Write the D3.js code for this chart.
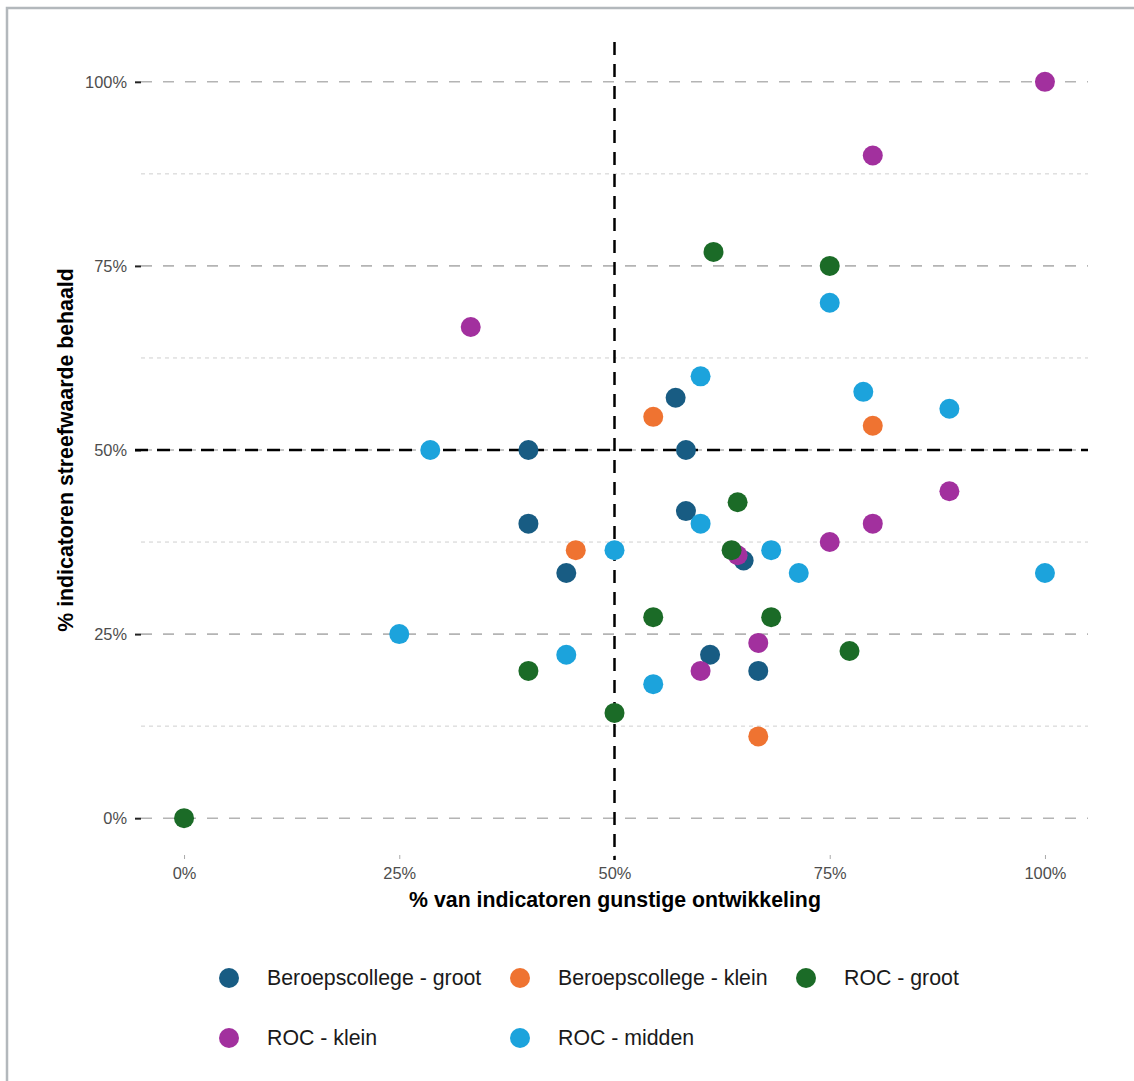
<!DOCTYPE html>
<html><head><meta charset="utf-8">
<script src="https://cdn.jsdelivr.net/npm/d3@7"></script>
<style>body{margin:0;background:#fff;font-family:"Liberation Sans",Arial,sans-serif}</style>
</head><body><svg id="c" width="1134" height="1081"></svg>
<script>
const groups = ["Beroepscollege - groot","Beroepscollege - klein","ROC - groot","ROC - klein","ROC - midden"];
const colors = ["#185c83","#ef7331","#1b6b27","#a2309e","#1ca3dc"];
// x: % indicatoren gunstige ontwikkeling, y: % indicatoren streefwaarde behaald
const bcGrootX = [57.1,40,58.3,40,58.3,44.4,65,61.1,66.7];
const bcGrootY = [57.1,50,50,40,41.7,33.3,35,22.2,20];
const bcKleinX = [54.5,80,45.5,66.7];
const bcKleinY = [54.5,53.3,36.4,11.1];
const rocGrootX = [0,61.5,75,64.3,63.6,54.5,68.2,77.3,40,50];
const rocGrootY = [0,76.9,75,42.9,36.4,27.3,27.3,22.7,20,14.3];
const rocKleinX = [100,80,33.3,88.9,80,75,64.3,66.7,60];
const rocKleinY = [100,90,66.7,44.4,40,37.5,35.7,23.8,20];
const rocMiddenX = [75,60,78.9,88.9,28.6,60,50,68.2,71.4,100,25,44.4,54.5];
const rocMiddenY = [70,60,57.9,55.6,50,40,36.4,36.4,33.3,33.3,25,22.2,18.2];
const majorTicks = [0,25,50,75,100];
const minorTicks = [12.5,37.5,62.5,87.5];
const tickLabels = ["0%","25%","50%","75%","100%"];
const drawOrder = [0,1,3,4,2];

const seriesX=[bcGrootX,bcKleinX,rocGrootX,rocKleinX,rocMiddenX];
const seriesY=[bcGrootY,bcKleinY,rocGrootY,rocKleinY,rocMiddenY];
const points=[];
drawOrder.forEach(i=>seriesX[i].forEach((x,j)=>points.push({g:i,x:x,y:seriesY[i][j]})));

const svg=d3.select("#c");
const x=d3.scaleLinear().domain([-5,105]).range([141,1088]);
const y=d3.scaleLinear().domain([-5,105]).range([855,45]);
const FONT="Liberation Sans, Arial, sans-serif";

// frame
svg.append("rect").attr("x",7).attr("y",8).attr("width",1140).attr("height",1090)
  .attr("fill","none").attr("stroke","#b3b8bc").attr("stroke-width",2.5);

// minor grid
svg.append("g").selectAll("line").data(minorTicks).join("line")
  .attr("x1",x(-5)).attr("x2",x(105)).attr("y1",d=>y(d)).attr("y2",d=>y(d))
  .attr("stroke","#cfcfcf").attr("stroke-width",1).attr("stroke-dasharray","4,4");
// major grid
svg.append("g").selectAll("line").data(majorTicks).join("line")
  .attr("x1",x(-5)).attr("x2",x(105)).attr("y1",d=>y(d)).attr("y2",d=>y(d))
  .attr("stroke","#b4b4b4").attr("stroke-width",1.6).attr("stroke-dasharray","11,11");

// y axis
const yAxis=d3.axisLeft(y).tickValues(majorTicks).tickFormat((d,i)=>tickLabels[i]).tickSize(6).tickPadding(8);
const ya=svg.append("g").attr("transform","translate(141,0)").call(yAxis);
ya.select(".domain").remove();
ya.selectAll("line").attr("stroke","#222").attr("stroke-width",2);
ya.selectAll("text").attr("fill","#4d4d4d").style("font-size","16.4px").style("font-family",FONT);

// x axis
const xAxis=d3.axisBottom(x).tickValues(majorTicks).tickFormat((d,i)=>tickLabels[i]).tickSize(4).tickPadding(8);
const xa=svg.append("g").attr("transform","translate(0,855)").call(xAxis);
xa.select(".domain").remove();
xa.selectAll("line").attr("stroke","#aaa").attr("stroke-width",1);
xa.selectAll("text").attr("fill","#4d4d4d").style("font-size","16.4px").style("font-family",FONT);

// reference lines
svg.append("line").attr("x1",x(50)).attr("x2",x(50)).attr("y1",42).attr("y2",860)
  .attr("stroke","#000").attr("stroke-width",2.5).attr("stroke-dasharray","13,9");
svg.append("line").attr("x1",135).attr("x2",x(105)).attr("y1",y(50)).attr("y2",y(50))
  .attr("stroke","#000").attr("stroke-width",2.5).attr("stroke-dasharray","13,9");

// points
svg.append("g").selectAll("circle").data(points).join("circle")
  .attr("cx",d=>x(d.x)).attr("cy",d=>y(d.y)).attr("r",10).attr("fill",d=>colors[d.g]);

// titles
svg.append("text").attr("x",615).attr("y",907).attr("text-anchor","middle")
  .style("font-size","21.3px").style("font-weight","bold").text("% van indicatoren gunstige ontwikkeling");
svg.append("text").attr("transform","translate(73,450) rotate(-90)").attr("text-anchor","middle")
  .style("font-size","21.3px").style("font-weight","bold").text("% indicatoren streefwaarde behaald");

// legend
const legPos=[[229,978],[520,978],[806,978],[229,1038],[520,1038]];
const leg=svg.append("g").selectAll("g").data(groups).join("g")
  .attr("transform",(d,i)=>`translate(${legPos[i][0]},${legPos[i][1]})`);
leg.append("circle").attr("r",10).attr("fill",(d,i)=>colors[i]);
leg.append("text").attr("x",38).attr("dy","0.35em").style("font-size","21.3px").attr("fill","#1a1a1a").text(d=>d);
</script></body></html>
